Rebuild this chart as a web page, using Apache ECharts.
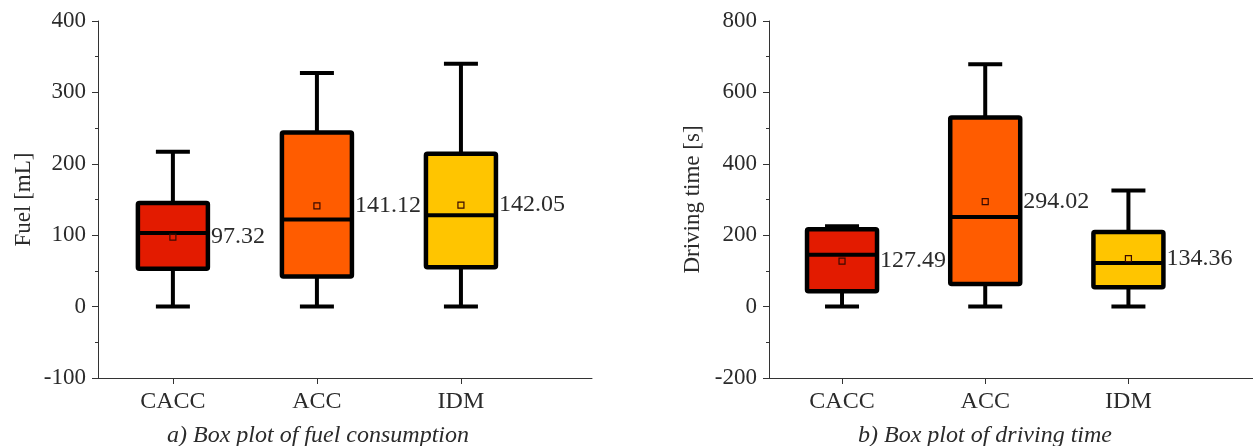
<!DOCTYPE html>
<html>
<head>
<meta charset="utf-8">
<script src="https://cdn.jsdelivr.net/npm/echarts@6/dist/echarts.min.js"></script>
<style>
html,body{margin:0;padding:0;background:#fff;}
#c{width:1253px;height:446px;}
</style>
</head>
<body>
<div id="c"></div>
<script>
// Categories
var categories = ['CACC', 'ACC', 'IDM'];
var boxColors = ['#E31B00', '#FF5C00', '#FFC500'];

// Fuel consumption [mL]: low whisker, Q1, median, Q3, high whisker, mean
var fuelLow = [0, 0, 0];
var fuelQ1 = [53, 42, 55];
var fuelMedian = [103, 122, 128];
var fuelQ3 = [145, 244, 214];
var fuelHigh = [217, 327, 340];
var fuelMean = [97.32, 141.12, 142.05];

// Driving time [s]
var timeLow = [0, 0, 0];
var timeQ1 = [43, 63, 54];
var timeMedian = [145, 251, 122];
var timeQ3 = [217, 530, 209];
var timeHigh = [225, 679, 325];
var timeMean = [127.49, 294.02, 134.36];

// Tick labels
var fuelTicks = [-100, 0, 100, 200, 300, 400];
var timeTicks = [-200, 0, 200, 400, 600, 800];

function buildData(low, q1, med, q3, high, mean) {
  return categories.map(function (c, i) {
    return [i + 1, low[i], q1[i], med[i], q3[i], high[i], mean[i], i];
  });
}

var FONT = '"Liberation Serif", "Times New Roman", serif';
var TXT = '#2b2b2b';

function renderBox(params, api) {
  var x = api.value(0);
  var idx = api.value(7);
  var pLow = api.coord([x, api.value(1)]);
  var pQ1 = api.coord([x, api.value(2)]);
  var pMed = api.coord([x, api.value(3)]);
  var pQ3 = api.coord([x, api.value(4)]);
  var pHigh = api.coord([x, api.value(5)]);
  var meanVal = api.value(6);
  var pMean = api.coord([x, meanVal]);
  var cx = pLow[0];
  var bw = 70, cw = 34, lw = 4;
  var stroke = '#000';
  return {
    type: 'group',
    children: [
      {type: 'line', shape: {x1: cx, y1: pLow[1], x2: cx, y2: pQ1[1]}, style: {stroke: stroke, lineWidth: lw}},
      {type: 'line', shape: {x1: cx, y1: pQ3[1], x2: cx, y2: pHigh[1]}, style: {stroke: stroke, lineWidth: lw}},
      {type: 'line', shape: {x1: cx - cw / 2, y1: pLow[1], x2: cx + cw / 2, y2: pLow[1]}, style: {stroke: stroke, lineWidth: lw}},
      {type: 'line', shape: {x1: cx - cw / 2, y1: pHigh[1], x2: cx + cw / 2, y2: pHigh[1]}, style: {stroke: stroke, lineWidth: lw}},
      {type: 'rect', shape: {x: cx - bw / 2, y: pQ3[1], width: bw, height: pQ1[1] - pQ3[1], r: 1.5},
        style: {fill: boxColors[idx], stroke: stroke, lineWidth: lw + 0.5, lineJoin: 'round'}},
      {type: 'line', shape: {x1: cx - bw / 2, y1: pMed[1], x2: cx + bw / 2, y2: pMed[1]}, style: {stroke: stroke, lineWidth: lw}},
      {type: 'rect', shape: {x: cx - 3, y: pMean[1] - 3, width: 6, height: 6},
        style: {fill: 'none', stroke: '#3a0a00', lineWidth: 1.2}},
      {type: 'text', x: cx + bw / 2 + 3, y: pMean[1],
        style: {text: meanVal.toFixed(2), font: '24px ' + FONT, fill: TXT, align: 'left', verticalAlign: 'middle'}}
    ]
  };
}

function xAxisCfg(gridIndex, min, max) {
  return {
    type: 'value', gridIndex: gridIndex, min: min, max: max,
    axisLine: {show: true, onZero: false, lineStyle: {color: '#333', width: 1}},
    axisTick: {show: true, length: 6, customValues: [1, 2, 3], lineStyle: {color: '#333'}},
    axisLabel: {customValues: [1, 2, 3], margin: 12, fontFamily: FONT, fontSize: 24, color: TXT,
      formatter: function (v) { return categories[Math.round(v) - 1] || ''; }},
    splitLine: {show: false}
  };
}

function yAxisCfg(gridIndex, ticks, name, gap) {
  return {
    type: 'value', gridIndex: gridIndex,
    min: ticks[0], max: ticks[ticks.length - 1], interval: ticks[1] - ticks[0],
    name: name, nameLocation: 'middle', nameGap: gap,
    nameTextStyle: {fontFamily: FONT, fontSize: 23, color: TXT},
    axisLine: {show: true, onZero: false, lineStyle: {color: '#333', width: 1}},
    axisTick: {show: true, length: 6, lineStyle: {color: '#333'}},
    minorTick: {show: true, splitNumber: 2, length: 3, lineStyle: {color: '#333'}},
    axisLabel: {margin: 12, fontFamily: FONT, fontSize: 23, color: TXT},
    splitLine: {show: false}
  };
}

var chart = echarts.init(document.getElementById('c'), null, {renderer: 'canvas'});
chart.setOption({
  animation: false,
  backgroundColor: '#fff',
  title: [
    {text: 'a) Box plot of fuel consumption', left: 313, top: 419, textAlign: 'center',
      textStyle: {fontFamily: FONT, fontSize: 24, fontStyle: 'italic', fontWeight: 'normal', color: TXT}},
    {text: 'b) Box plot of driving time', left: 980, top: 419, textAlign: 'center',
      textStyle: {fontFamily: FONT, fontSize: 24, fontStyle: 'italic', fontWeight: 'normal', color: TXT}}
  ],
  grid: [
    {left: 98, top: 21, width: 494, height: 357},
    {left: 769, top: 21, width: 484, height: 357}
  ],
  xAxis: [xAxisCfg(0, 0.48, 3.91), xAxisCfg(1, 0.49, 3.87)],
  yAxis: [yAxisCfg(0, fuelTicks, 'Fuel [mL]', 63), yAxisCfg(1, timeTicks, 'Driving time [s]', 65)],
  series: [
    {type: 'custom', xAxisIndex: 0, yAxisIndex: 0, clip: false, renderItem: renderBox,
      encode: {x: 0, y: [1, 2, 3, 4, 5]},
      data: buildData(fuelLow, fuelQ1, fuelMedian, fuelQ3, fuelHigh, fuelMean)},
    {type: 'custom', xAxisIndex: 1, yAxisIndex: 1, clip: false, renderItem: renderBox,
      encode: {x: 0, y: [1, 2, 3, 4, 5]},
      data: buildData(timeLow, timeQ1, timeMedian, timeQ3, timeHigh, timeMean)}
  ]
});
</script>
</body>
</html>
